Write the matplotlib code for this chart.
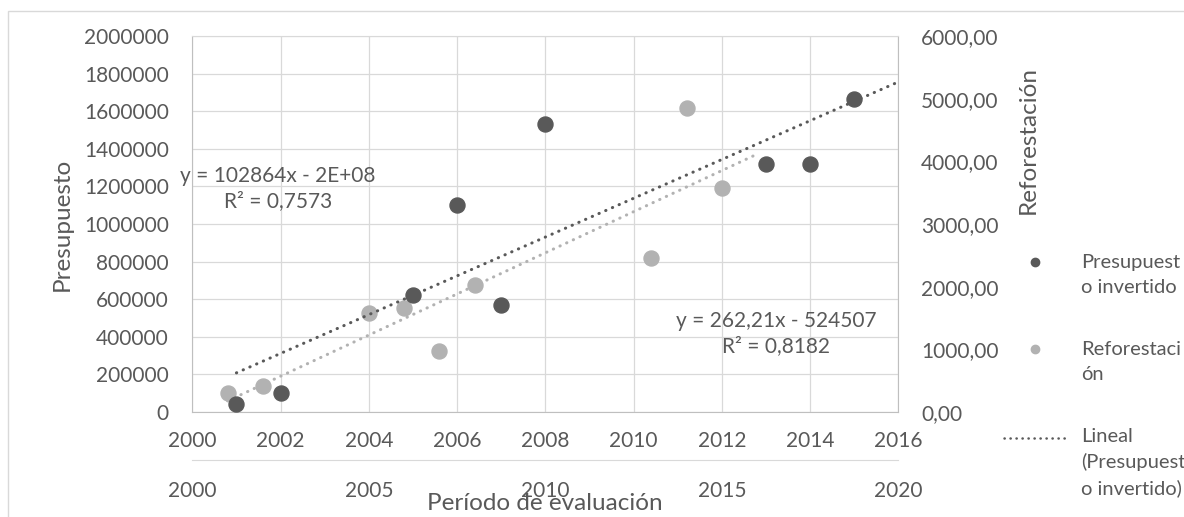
import matplotlib
matplotlib.use("Agg")
import matplotlib.pyplot as plt
import numpy as np
from matplotlib.lines import Line2D
from matplotlib.patches import Rectangle
from matplotlib.ticker import FuncFormatter
from matplotlib.legend_handler import HandlerLine2D

# ---------------- data ----------------
years = [2001, 2002, 2005, 2006, 2007, 2008, 2013, 2014, 2015]
presupuesto = [45000, 100000, 620000, 1100000, 570000, 1530000, 1320000, 1320000, 1665000]
reforestacion = [300, 420, 1585, 1655, 980, 2030, 2465, 4855, 3580]

x1_ticks = [2000, 2002, 2004, 2006, 2008, 2010, 2012, 2014, 2016]
x2_ticks = [2000, 2005, 2010, 2015, 2020]
y1_ticks = [0, 200000, 400000, 600000, 800000, 1000000, 1200000, 1400000, 1600000, 1800000, 2000000]
y2_ticks = [0, 1000, 2000, 3000, 4000, 5000, 6000]

eq_presupuesto = "y = 102864x - 2E+08\nR² = 0,7573"
eq_reforestacion = "y = 262,21x - 524507\nR² = 0,8182"

legend_labels = ["Presupuest\no invertido", "Reforestaci\nón", "Lineal\n(Presupuest\no invertido)"]

# ---------------- style ----------------
plt.rcParams["font.family"] = ["Lato", "DejaVu Sans"]
plt.rcParams["font.size"] = 15
TXT = "#595959"
DARK = "#595959"
LIGHT = "#b2b2b2"
GRID = "#d9d9d9"
AXL = "#bfbfbf"
DOT = (0, (0.1, 2.3))
DOT_LW = 2.2

W, H = 1184, 517
fig = plt.figure(figsize=(W / 100, H / 100), dpi=100)
fig.patch.set_facecolor("white")
L, R, T, B = 192.3, 898.3, 36, 412
rect = [L / W, 1 - B / H, (R - L) / W, (B - T) / H]

# chart border
fig.patches.append(Rectangle((8 / W, -0.2), 1.5, 1.2 - 11 / H, transform=fig.transFigure,
                             fill=False, edgecolor=GRID, lw=1.0))

# primary axes (grid, left axis, first x axis)
ax = fig.add_axes(rect)
ax.set_xlim(2000, 2016)
ax.set_ylim(0, 2000000)
ax.set_xticks(x1_ticks)
ax.set_yticks(y1_ticks)
ax.yaxis.set_major_formatter(FuncFormatter(lambda v, p: f"{v:.0f}"))
ax.grid(True, color=GRID, lw=0.9)
ax.set_axisbelow(True)
ax.tick_params(axis="both", length=0, colors=TXT, labelsize=15)
ax.tick_params(axis="y", pad=17)
ax.tick_params(axis="x", pad=14)
ax.spines["top"].set_color(GRID)
for s in ["left", "bottom", "right"]:
    ax.spines[s].set_color(AXL)
ax.set_ylabel("Presupuesto", color=TXT, fontsize=17.5)
ax.yaxis.label.set_va("center")
ax.yaxis.set_label_coords((62 - L) / (R - L), 0.5)

# reforestation axes (secondary x and y)
ax_ref = fig.add_axes(rect, facecolor="none")
ax_ref.set_xlim(2000, 2020)
ax_ref.set_ylim(0, 6000)
ax_ref.set_xticks(x2_ticks)
ax_ref.set_yticks(y2_ticks)
ax_ref.yaxis.tick_right()
ax_ref.yaxis.set_label_position("right")
ax_ref.yaxis.set_major_formatter(FuncFormatter(lambda v, p: f"{v:.2f}".replace(".", ",")))
for s in ["top", "left", "right"]:
    ax_ref.spines[s].set_visible(False)
ax_ref.spines["bottom"].set_position(("outward", 48 * 0.72))
ax_ref.spines["bottom"].set_color(GRID)
ax_ref.tick_params(axis="both", length=0, colors=TXT, labelsize=15)
ax_ref.tick_params(axis="y", pad=16.5)
ax_ref.tick_params(axis="x", pad=15)
ax_ref.set_ylabel("Reforestación", color=TXT, fontsize=17.5)
ax_ref.yaxis.label.set_va("center")
ax_ref.yaxis.set_label_coords((1028 - L) / (R - L), (B - 140) / (B - T))
ax_ref.set_xlabel("Período de evaluación", color=TXT, fontsize=17.5)
ax_ref.xaxis.set_label_coords(0.5, (B - 504) / (B - T))
ax_ref.xaxis.label.set_va("center")

ref_fit = np.polyfit(years, reforestacion, 1)
xr = np.array([min(years), max(years) + 1])
ax_ref.plot(years, reforestacion, "o", color=LIGHT, ms=10.8, zorder=3)
ax_ref.plot(xr, np.polyval(ref_fit, xr), color=LIGHT, ls=DOT, lw=DOT_LW,
            dash_capstyle="round", zorder=2)

# presupuesto axes (on top, shares primary scales)
ax_p = fig.add_axes(rect, sharex=ax, sharey=ax, facecolor="none")
ax_p.axis("off")
p_fit = np.polyfit(years, presupuesto, 1)
ax_p.plot(years, presupuesto, "o", color=DARK, ms=10.8, zorder=3)
ax_p.plot(xr, np.polyval(p_fit, xr), color=DARK, ls=DOT, lw=DOT_LW,
          dash_capstyle="round", zorder=4)

# equations
ax_p.text(2001.94, 1189000, eq_presupuesto, ha="center", va="center",
          multialignment="center", color=TXT, fontsize=15, linespacing=1.3)
ax_p.text(2013.23, 416000, eq_reforestacion, ha="center", va="center",
          multialignment="center", color=TXT, fontsize=15, linespacing=1.3)


# legend: handles aligned with the first line of each wrapped label
class ShiftedHandler(HandlerLine2D):
    def __init__(self, dy, **kw):
        super().__init__(**kw)
        self.dy = dy

    def create_artists(self, legend, orig_handle, xdescent, ydescent, width, height,
                       fontsize, trans):
        arts = super().create_artists(legend, orig_handle, xdescent, ydescent, width,
                                      height, fontsize, trans)
        for a in arts:
            a.set_ydata(np.asarray(a.get_ydata(), dtype=float) + self.dy)
        return arts


LFS = 14.5
LSP = 1.55
line_pt = 0.8 * LSP * LFS
handles = [
    Line2D([], [], marker="o", ls="none", color=DARK, ms=6),
    Line2D([], [], marker="o", ls="none", color=LIGHT, ms=6),
    Line2D([], [], color=DARK, ls=DOT, lw=1.8, dash_capstyle="round"),
]
hmap = {h: ShiftedHandler(lab.count("\n") * line_pt / 2)
        for h, lab in zip(handles, legend_labels)}
leg = fig.legend(handles, legend_labels, loc="upper left", handler_map=hmap,
                 bbox_to_anchor=(1004 / W, 1 - 254 / H), frameon=False,
                 borderpad=0, borderaxespad=0, handlelength=3.08,
                 handletextpad=0.75, labelspacing=2.25, fontsize=LFS)
for t in leg.get_texts():
    t.set_color(TXT)
    t.set_linespacing(LSP)

fig.savefig("out.png", dpi=100, facecolor="white")
